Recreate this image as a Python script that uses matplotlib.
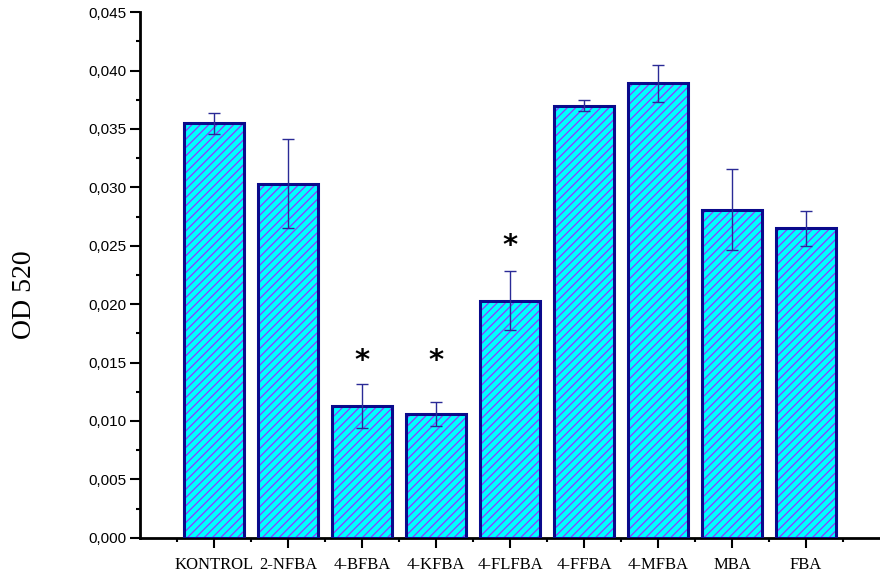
import matplotlib.pyplot as plt
import numpy as np
from matplotlib.ticker import MultipleLocator, FuncFormatter

categories = ['KONTROL', '2-NFBA', '4-BFBA', '4-KFBA', '4-FLFBA', '4-FFBA', '4-MFBA', 'MBA', 'FBA']
od520 = [0.0355, 0.0303, 0.0113, 0.0106, 0.0203, 0.0370, 0.0389, 0.0281, 0.0265]
od520_err = [0.0009, 0.0038, 0.0019, 0.0010, 0.0025, 0.0005, 0.0016, 0.0035, 0.0015]
# significance stars: (category, height of star)
stars = [('4-BFBA', 0.0151), ('4-KFBA', 0.0151), ('4-FLFBA', 0.0250)]

plt.rcParams['hatch.linewidth'] = 0.9

fig = plt.figure(figsize=(8.8, 5.77), dpi=100)
ax = fig.add_axes([0.159, 0.068, 0.841, 0.911])

x = np.arange(1, len(categories) + 1)

# hatched fill first, then the navy outline on top
ax.bar(x, od520, width=0.8, color='#00ffff', edgecolor='#9933ff', hatch='////', linewidth=0, zorder=2)
ax.bar(x, od520, width=0.8, fill=False, edgecolor='#0a0a8c', linewidth=2.2, zorder=3)
ax.errorbar(x, od520, yerr=od520_err, fmt='none', ecolor='#2a2a96', elinewidth=1, capsize=4, capthick=1, zorder=4)

for name, h in stars:
    ax.text(categories.index(name) + 1, h, '*', ha='center', va='center', fontsize=21, fontweight='bold',
            family='DejaVu Sans')

ax.set_xlim(0, 10)
ax.set_ylim(0, 0.045)
ax.set_xticks(x)
ax.set_xticklabels(categories, family='Liberation Serif', fontsize=12)
ax.xaxis.set_minor_locator(plt.FixedLocator(np.arange(0.5, 10, 1)))
ax.yaxis.set_major_locator(MultipleLocator(0.005))
ax.yaxis.set_minor_locator(MultipleLocator(0.0025))
ax.yaxis.set_major_formatter(FuncFormatter(lambda v, p: f'{v:.3f}'.replace('.', ',')))
for lab in ax.get_yticklabels():
    lab.set_family('Liberation Sans')
    lab.set_fontsize(11)

ax.tick_params(axis='both', which='major', direction='out', length=7, width=1.5)
ax.tick_params(axis='both', which='minor', direction='out', length=3, width=1.5)
ax.tick_params(axis='x', which='major', pad=7)
ax.tick_params(axis='y', which='major', pad=3)

ax.spines['top'].set_visible(False)
ax.spines['right'].set_visible(False)
ax.spines['left'].set_linewidth(2)
ax.spines['bottom'].set_linewidth(2)

ax.set_ylabel('OD 520', family='Liberation Serif', fontsize=20)
ax.yaxis.set_label_coords(-0.139, 0.462)

fig.savefig('out.png', dpi=100)
